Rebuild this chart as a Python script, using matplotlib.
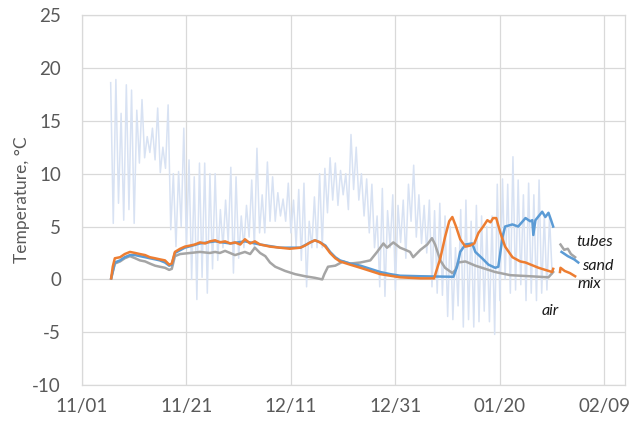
import numpy as np
import pandas as pd
import matplotlib
matplotlib.use("Agg")
from matplotlib import pyplot as plt
import matplotlib.dates as mdates

plt.rcParams['font.family'] = ['Lato', 'DejaVu Sans']
plt.rcParams['axes.unicode_minus'] = False

start = pd.Timestamp("2020-11-01")

# air temperature, half-day samples starting on day 5.5
air = [18.6, 5.3, 18.9, 7.2, 15.7, 5.6, 18.4, 6.6, 17.9, 5.3,
       16.0, 11.0, 17.0, 11.5, 13.5, 12.0, 14.3, 11.3, 16.2, 10.1,
       12.5, 10.5, 16.5, 4.7, 10.0, 3.1, 10.2, 5.0, 14.3, 3.0,
       11.3, 0.0, 9.7, -1.9, 11.0, 0.2, 11.0, -1.3, 10.0, 1.0,
       10.0, 1.8, 6.6, 3.0, 7.5, 3.5, 10.6, 0.6, 9.7, 2.0,
       6.0, 3.0, 7.0, 4.0, 9.4, 3.0, 12.4, 4.4, 8.0, 4.4,
       11.1, 5.5, 9.7, 5.5, 8.2, 6.0, 7.6, 5.5, 9.1, 4.4,
       7.5, 3.1, 8.5, 1.8, 9.1, -0.7, 5.5, 3.0, 7.8, 3.0,
       10.0, 3.0, 10.5, 6.3, 11.5, 7.5, 11.0, 7.0, 10.3, 8.0,
       10.0, 6.6, 13.7, 8.5, 12.5, 7.5, 10.0, 6.0, 9.5, 4.4,
       9.0, 3.0, 6.0, -0.7, 8.6, -1.6, 6.5, 3.0, 8.0, -1.0,
       7.0, 3.5, 7.5, 2.0, 9.0, 5.5, 10.8, 4.0, 8.0, 3.4,
       7.0, 2.5, 7.5, -0.7, 6.5, -1.3, 7.2, -1.5, 6.0, -3.5,
       5.0, -3.8, 3.0, -2.5, 6.6, -4.5, 7.5, -3.8, 5.5, -4.5,
       7.0, -4.0, 6.0, -3.0, 5.0, -4.0, 6.0, -5.2, 9.0, -2.0,
       9.5, 0.0, 9.0, -1.3, 11.6, -1.0, 9.4, -0.5, 8.0, -2.0,
       9.1, -1.3, 8.0, -2.0, 9.4, -1.3, 6.0, -1.0, 5.9, 0.5]
air_day = 5.5 + 0.5 * np.arange(len(air))

tubes_day = [5.6, 6.3, 7.3, 8.2, 9.2, 10.2, 11.1, 12.1, 13.0, 14.0, 14.9, 15.9, 16.7,
             17.2, 17.8, 18.8, 20.7, 22.6, 24.5, 25.5, 26.4, 27.4, 29.3, 31.2, 32.2,
             33.1, 34.1, 35.1, 36.0, 37.0, 38.9, 40.8, 42.7, 44.6, 46.0, 46.4, 47.1,
             48.5, 50.0, 51.3, 53.3, 55.2, 56.5, 57.7, 58.4, 59.6, 60.9, 61.9, 62.8,
             63.4, 64.8, 66.1, 67.0, 67.6, 68.6, 69.5, 70.9, 71.5, 72.0, 73.4, 75.3,
             77.2, 79.1, 82.0, 85.8, 89.3, 90.2]
tubes = [0.1, 1.5, 1.7, 2.0, 2.2, 2.0, 1.8, 1.7, 1.5, 1.3, 1.2, 1.1, 0.9,
         1.0, 2.2, 2.4, 2.5, 2.6, 2.5, 2.6, 2.5, 2.7, 2.3, 2.6, 2.4,
         3.0, 2.5, 2.2, 1.6, 1.2, 0.8, 0.5, 0.3, 0.15, 0.0, 0.5, 1.2,
         1.3, 1.7, 1.5, 1.6, 1.8, 2.6, 3.4, 3.0, 3.5, 3.0, 2.8, 2.6,
         2.1, 2.8, 3.3, 3.9, 3.3, 1.8, 1.1, 0.6, 0.9, 1.6, 1.7, 1.3,
         1.0, 0.7, 0.4, 0.3, 0.2, 0.7]

sand_day = [5.6, 6.3, 7.3, 8.2, 9.2, 10.2, 11.1, 12.1, 13.0, 14.0, 14.9, 15.9, 16.7,
            17.2, 17.8, 19.7, 22.6, 25.5, 28.4, 31.2, 34.1, 37.9, 41.8, 43.7, 44.6,
            45.6, 46.6, 47.5, 48.5, 49.4, 51.3, 53.3, 55.2, 57.1, 59.0, 60.9, 64.8,
            71.1, 71.8, 72.4, 73.4, 74.7, 75.3, 76.6, 77.8, 79.1, 79.7, 80.5, 81.0,
            82.4, 83.5, 84.9, 85.8, 86.2, 86.4, 86.8, 88.1, 88.7, 89.3, 89.8, 90.2]
sand = [0.1, 1.6, 1.8, 2.1, 2.3, 2.3, 2.2, 2.1, 2.0, 1.9, 1.8, 1.6, 1.3,
        1.4, 2.5, 3.0, 3.4, 3.6, 3.4, 3.6, 3.3, 3.0, 3.0, 3.5, 3.7,
        3.5, 3.2, 2.6, 2.1, 1.8, 1.5, 1.3, 1.0, 0.7, 0.5, 0.35, 0.3,
        0.25, 1.2, 2.6, 3.3, 3.4, 2.6, 2.0, 1.4, 1.1, 1.2, 4.0, 5.0,
        5.2, 5.0, 5.8, 5.5, 5.6, 4.2, 5.6, 6.4, 5.9, 6.3, 5.6, 5.0]

mix_day = [5.6, 5.9, 6.3, 7.3, 8.2, 9.2, 10.2, 11.1, 12.1, 13.0, 14.0, 14.9, 15.9,
           16.7, 17.2, 17.8, 18.8, 19.7, 20.7, 21.6, 22.6, 23.6, 24.5, 25.5, 26.4,
           27.4, 28.4, 29.3, 30.3, 31.2, 32.2, 33.1, 34.1, 35.1, 36.0, 37.9, 39.8,
           41.8, 42.7, 43.7, 44.6, 45.6, 46.6, 47.5, 48.5, 49.4, 51.3, 53.3, 55.2,
           57.1, 59.0, 60.9, 62.8, 64.8, 67.4, 68.6, 69.5, 70.3, 70.9, 71.6, 72.4,
           73.4, 74.3, 75.1, 75.9, 76.8, 77.6, 78.2, 78.7, 79.3, 80.1, 81.0, 82.4,
           83.9, 84.9, 87.4, 90.0, 90.2]
mix = [0.1, 1.2, 2.0, 2.1, 2.4, 2.6, 2.5, 2.4, 2.3, 2.1, 2.0, 1.9, 1.8,
       1.4, 1.5, 2.6, 2.9, 3.1, 3.2, 3.3, 3.5, 3.4, 3.6, 3.7, 3.5,
       3.6, 3.4, 3.5, 3.3, 3.8, 3.4, 3.6, 3.3, 3.2, 3.1, 3.0, 2.9,
       3.0, 3.2, 3.5, 3.7, 3.5, 3.1, 2.5, 2.0, 1.7, 1.4, 1.1, 0.8,
       0.5, 0.35, 0.2, 0.15, 0.1, 0.1, 2.0, 4.0, 5.5, 5.9, 5.0, 3.8,
       3.1, 3.2, 3.4, 4.4, 5.0, 5.6, 5.4, 5.8, 5.8, 4.4, 3.1, 2.1,
       1.7, 1.6, 1.1, 0.7, 1.0]

# short pieces of line next to the series names
tubes_tail_day = [91.6, 92.3, 93.0, 93.6, 94.4]
tubes_tail = [3.3, 2.8, 2.9, 2.4, 2.1]
sand_tail_day = [91.8, 93.0, 94.2, 95.0]
sand_tail = [2.6, 2.2, 1.9, 1.6]
mix_tail_day = [91.5, 91.6, 92.4, 93.4, 94.4]
mix_tail = [0.7, 1.1, 0.8, 0.6, 0.3]


def to_dates(days):
    return start + pd.to_timedelta(np.asarray(days, dtype=float), unit="D")


fig = plt.figure(figsize=(6.4, 4.28), dpi=100)
ax = fig.add_axes([0.128, 0.10, 0.849, 0.865])

ax.plot(to_dates(air_day), air, color="#d8e2f3", lw=1.1, zorder=1)
ax.plot(to_dates(tubes_day), tubes, color="#a5a5a5", lw=1.8, zorder=2)
ax.plot(to_dates(sand_day), sand, color="#5b9bd5", lw=1.8, zorder=3)
ax.plot(to_dates(mix_day), mix, color="#ed7d31", lw=1.8, zorder=4)
ax.plot(to_dates(tubes_tail_day), tubes_tail, color="#a5a5a5", lw=1.8, zorder=2)
ax.plot(to_dates(sand_tail_day), sand_tail, color="#5b9bd5", lw=1.8, zorder=3)
ax.plot(to_dates(mix_tail_day), mix_tail, color="#ed7d31", lw=1.8, zorder=4)

lbl = dict(fontsize=11.5, style="italic", color="#1a1a1a")
ax.text(to_dates([94.6])[0], 3.5, "tubes", ha="left", va="center", **lbl)
ax.text(to_dates([95.7])[0], 1.3, "sand", ha="left", va="center", **lbl)
ax.text(to_dates([94.8])[0], -0.4, "mix", ha="left", va="center", **lbl)
ax.text(to_dates([88.0])[0], -3.0, "air", ha="left", va="center", **lbl)

ax.set_ylim(-10, 25)
ax.set_yticks(np.arange(-10, 26, 5))
ax.set_xlim(start, start + pd.Timedelta(days=104))
ax.set_xticks(to_dates(np.arange(0, 101, 20)))
ax.xaxis.set_major_formatter(mdates.DateFormatter("%m/%d"))

ax.grid(True, color="#d9d9d9", lw=0.9)
ax.set_axisbelow(True)
for s in ax.spines.values():
    s.set_color("#d9d9d9")
    s.set_linewidth(0.9)
ax.tick_params(length=0, labelsize=13.5, colors="#595959")
ax.tick_params(axis="y", pad=15)
ax.tick_params(axis="x", pad=9)
ax.set_ylabel("Temperature, °C", fontsize=12.5, color="#595959", labelpad=2)

fig.savefig("out.png", dpi=100)
